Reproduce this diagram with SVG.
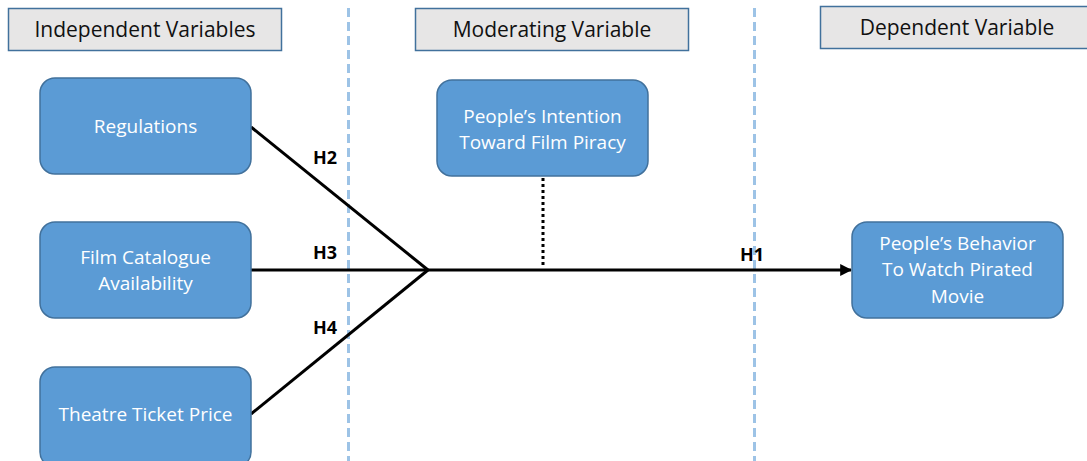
<svg xmlns="http://www.w3.org/2000/svg" width="1087" height="461" viewBox="0 0 1087 461">
  <defs>
    <style>
      .hdr { fill: #e7e6e6; stroke: #41719c; stroke-width: 1.5; }
      .hdr-t { font-family: "Open Sans", "Liberation Sans", sans-serif; font-size: 21px; fill: #111; text-anchor: middle; }
      .node { fill: #5b9bd5; stroke: #41719c; stroke-width: 1.5; }
      .node-t { font-family: "Open Sans", "Liberation Sans", sans-serif; font-size: 19px; fill: #ffffff; text-anchor: middle; }
      .sep { stroke: #9dc3e6; stroke-width: 3; stroke-dasharray: 9 5; fill: none; }
      .link { stroke: #000; stroke-width: 3; fill: none; }
      .mod { stroke: #000; stroke-width: 3; stroke-dasharray: 3 3; fill: none; }
      .lbl { font-family: "Open Sans", "Liberation Sans", sans-serif; font-size: 18px; font-weight: bold; fill: #000; text-anchor: middle; }
    </style>
    <marker id="arrow" viewBox="0 0 10 10" refX="9" refY="5" markerWidth="4" markerHeight="4" orient="auto" markerUnits="strokeWidth">
      <path d="M0,0 L10,5 L0,10 z" fill="#000"/>
    </marker>
  </defs>

  <!-- column separators -->
  <g id="separators">
    <line class="sep" x1="348.5" y1="8" x2="348.5" y2="461"/>
    <line class="sep" x1="754.5" y1="8" x2="754.5" y2="461"/>
  </g>

  <!-- column headers -->
  <g id="header-independent">
    <rect class="hdr" x="8.5" y="8.5" width="273" height="42"/>
    <text class="hdr-t" x="145" y="37">Independent Variables</text>
  </g>
  <g id="header-moderating">
    <rect class="hdr" x="415.5" y="8.5" width="273" height="42"/>
    <text class="hdr-t" x="552" y="37">Moderating Variable</text>
  </g>
  <g id="header-dependent">
    <rect class="hdr" x="820.5" y="6.5" width="273" height="42"/>
    <text class="hdr-t" x="957" y="35">Dependent Variable</text>
  </g>

  <!-- connectors -->
  <g id="connectors">
    <line class="link" x1="251" y1="127" x2="428" y2="270"/>
    <line class="link" x1="251" y1="270" x2="428" y2="270"/>
    <line class="link" x1="251" y1="414" x2="428" y2="270"/>
    <line class="link" x1="428" y1="270" x2="851" y2="270" marker-end="url(#arrow)"/>
    <line class="mod" x1="543" y1="178" x2="543" y2="266"/>
    <text class="lbl" x="325" y="164">H2</text>
    <text class="lbl" x="325" y="259">H3</text>
    <text class="lbl" x="325" y="334">H4</text>
    <text class="lbl" x="752" y="261">H1</text>
  </g>

  <!-- nodes -->
  <g id="node-regulations">
    <rect class="node" x="40" y="78" width="211" height="96" rx="15"/>
    <text class="node-t" x="145.5" y="133">Regulations</text>
  </g>
  <g id="node-film-catalogue">
    <rect class="node" x="40" y="222" width="211" height="96" rx="15"/>
    <text class="node-t" x="145.5" y="264">Film Catalogue</text>
    <text class="node-t" x="145.5" y="290">Availability</text>
  </g>
  <g id="node-ticket-price">
    <rect class="node" x="40" y="367" width="211" height="100" rx="15"/>
    <text class="node-t" x="145.5" y="421">Theatre Ticket Price</text>
  </g>
  <g id="node-intention">
    <rect class="node" x="437" y="80" width="211" height="96" rx="15"/>
    <text class="node-t" x="542.5" y="123">People’s Intention</text>
    <text class="node-t" x="542.5" y="149">Toward Film Piracy</text>
  </g>
  <g id="node-behavior">
    <rect class="node" x="852" y="222" width="211" height="96" rx="15"/>
    <text class="node-t" x="957.5" y="250">People’s Behavior</text>
    <text class="node-t" x="957.5" y="276">To Watch Pirated</text>
    <text class="node-t" x="957.5" y="303">Movie</text>
  </g>
</svg>
